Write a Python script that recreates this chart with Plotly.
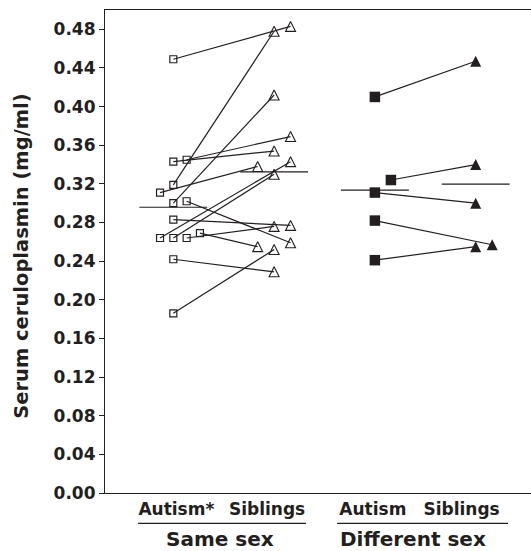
import numpy as np
import plotly.graph_objects as go

# Serum ceruloplasmin (mg/ml) for sibling pairs
same_autism = [0.449, 0.319, 0.300, 0.343, 0.345, 0.311, 0.264, 0.264,
               0.302, 0.283, 0.264, 0.269, 0.242, 0.186]
same_sibling = [0.483, 0.478, 0.412, 0.354, 0.369, 0.338, 0.343, 0.330,
                0.259, 0.277, 0.276, 0.255, 0.229, 0.252]
diff_autism = [0.410, 0.324, 0.311, 0.282, 0.241]
diff_sibling = [0.447, 0.340, 0.300, 0.257, 0.255]

# side-by-side dodge slots so overlapping values stay visible
same_autism_slot = [0, 0, 0, 0, 1, -1, -1, 0, 1, 0, 1, 2, 0, 0]
same_sibling_slot = [1, 0, 0, 0, 1, -1, 1, 0, 1, 1, 0, -1, 0, 0]
diff_autism_slot = [0, 1, 0, 0, 0]
diff_sibling_slot = [0, 0, 0, 1, 0]

tick_labels = ["Autism*", "Siblings", "Autism", "Siblings"]
tick_pos = [1.03, 1.93, 2.98, 3.86]
group_labels = ["Same sex", "Different sex"]

INK = "#231f20"
FONT = "DejaVu Sans"

def xs(center, slots, step):
    return [center + s * step for s in slots]

sa_x = xs(1, same_autism_slot, 0.132)
ss_x = xs(2, same_sibling_slot, 0.163)
da_x = xs(3, diff_autism_slot, 0.159)
ds_x = xs(4, diff_sibling_slot, 0.164)

fig = go.Figure()

# connecting lines for each pair
for ax_, ay_, bx_, by_ in [(sa_x, same_autism, ss_x, same_sibling),
                           (da_x, diff_autism, ds_x, diff_sibling)]:
    lx, ly = [], []
    for x1, y1, x2, y2 in zip(ax_, ay_, bx_, by_):
        lx += [x1, x2, None]
        ly += [y1, y2, None]
    fig.add_trace(go.Scatter(x=lx, y=ly, mode="lines",
                             line=dict(color=INK, width=1.2),
                             hoverinfo="skip", showlegend=False))

# group means
for c, vals in [(1, same_autism), (2, same_sibling),
                (3, diff_autism), (4, diff_sibling)]:
    m = float(np.mean(vals))
    fig.add_trace(go.Scatter(x=[c - 0.337, c + 0.337], y=[m, m], mode="lines",
                             line=dict(color=INK, width=1.2),
                             hoverinfo="skip", showlegend=False))

tri = dict(symbol="arrow-down-open", angle=180)
fig.add_trace(go.Scatter(x=sa_x, y=same_autism, mode="markers", showlegend=False,
                         marker=dict(symbol="square-open", size=7, color=INK,
                                     line=dict(width=1.2, color=INK))))
fig.add_trace(go.Scatter(x=ss_x, y=same_sibling, mode="markers", showlegend=False,
                         marker=dict(symbol="arrow-down-open", angle=180, standoff=5,
                                     size=10, color=INK,
                                     line=dict(width=1.1, color=INK))))
fig.add_trace(go.Scatter(x=da_x, y=diff_autism, mode="markers", showlegend=False,
                         marker=dict(symbol="square", size=10.5, color=INK,
                                     line=dict(width=0))))
fig.add_trace(go.Scatter(x=ds_x, y=diff_sibling, mode="markers", showlegend=False,
                         marker=dict(symbol="arrow-down", angle=180, standoff=5.5,
                                     size=11, color=INK,
                                     line=dict(width=0))))

# group underlines and labels
for x0, x1 in [(0.650, 2.316), (2.625, 4.321)]:
    fig.add_shape(type="line", xref="x", yref="paper", x0=x0, x1=x1,
                  y0=-0.063, y1=-0.063, line=dict(color=INK, width=1.2))
for xc, txt in zip([1.468, 3.383], group_labels):
    fig.add_annotation(x=xc, y=-0.0962, xref="x", yref="paper", text=txt,
                       showarrow=False, xanchor="center", yanchor="middle",
                       font=dict(family=FONT, size=20, color=INK, weight="bold"))

fig.add_annotation(x=-0.1948, y=0.491, xref="paper", yref="paper",
                   text="Serum ceruloplasmin (mg/ml)", textangle=-90,
                   showarrow=False, xanchor="center", yanchor="middle",
                   font=dict(family=FONT, size=19.5, color=INK, weight="bold"))

fig.update_xaxes(range=[0.322, 4.549], showgrid=False, zeroline=False,
                 showline=True, mirror=True, linecolor=INK, linewidth=1.2,
                 tickvals=tick_pos, ticktext=tick_labels, ticks="",
                 tickfont=dict(family=FONT, size=17, color=INK, weight="bold"))
fig.update_yaxes(range=[0, 0.5], showgrid=False, zeroline=False,
                 showline=True, linecolor=INK, linewidth=1.2,
                 tickvals=[round(0.04 * i, 2) for i in range(13)],
                 tickformat=".2f", ticks="outside", ticklen=5, tickwidth=1.2,
                 tickcolor=INK,
                 tickfont=dict(family=FONT, size=17, color=INK, weight="bold"))

fig.update_layout(width=531, height=551, margin=dict(l=105, r=0, t=10, b=58),
                  plot_bgcolor="white", paper_bgcolor="white")

fig.write_html("out.html")
